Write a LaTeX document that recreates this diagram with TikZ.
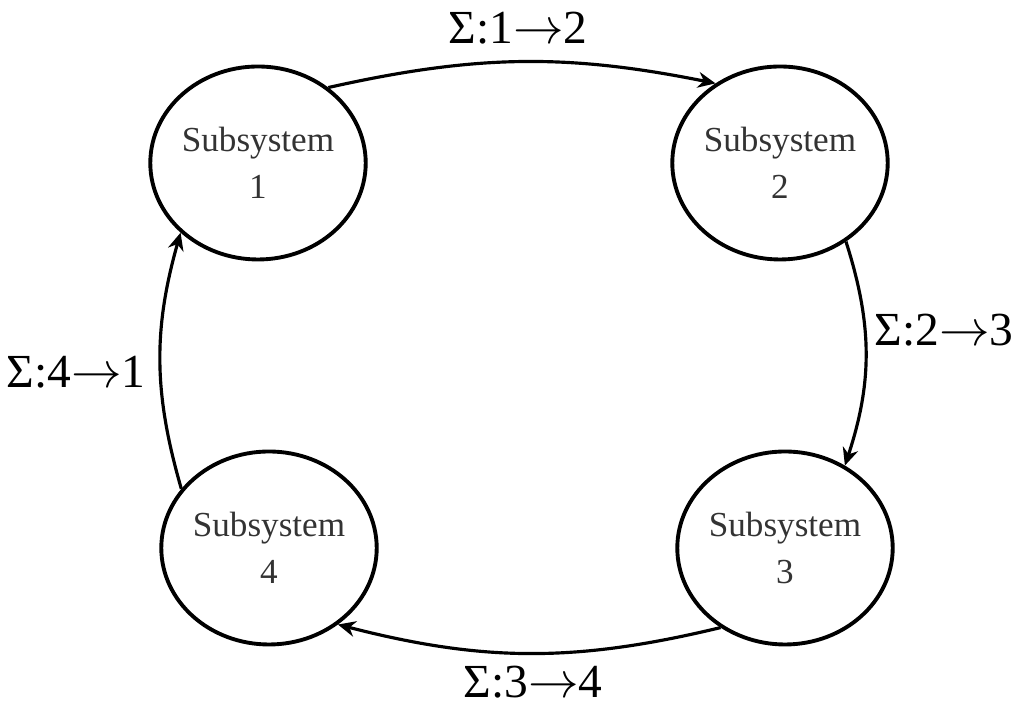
\documentclass[tikz,border=0pt]{standalone}
\usepackage{fontspec}
\setmainfont{Liberation Serif}
\usetikzlibrary{shapes.geometric,arrows.meta}

\begin{document}
\begin{tikzpicture}[>={Stealth[length=5pt,width=4.5pt]}, font=\fontsize{10}{13.5}\selectfont,
		subsys/.style={draw, line width=1.1pt, ellipse, minimum width=2.12cm, minimum height=1.93cm, inner sep=0pt, align=center, text=black!80},
		flow/.style={->, line width=0.9pt},
		flowlabel/.style={font=\fontsize{13.5}{16}\selectfont, inner sep=0pt}]
		\useasboundingbox (0,0) rectangle (10.16,7.08);
		\node[subsys] (S1) at (2.58,5.45) {Subsystem\\1}; % top left
		\node[subsys] (S2) at (7.80,5.45) {Subsystem\\2}; % top right
		\node[subsys] (S3) at (7.85,1.60) {Subsystem\\3}; % bottom right
		\node[subsys] (S4) at (2.69,1.60) {Subsystem\\4}; % bottom left
		\node[flowlabel] (L12) at (5.18,6.80) {Σ:1$\rightarrow$2};
		\node[flowlabel] (L23) at (9.44,3.78) {Σ:2$\rightarrow$3};
		\node[flowlabel] (L34) at (5.33,0.26) {Σ:3$\rightarrow$4};
		\node[flowlabel] (L41) at (0.76,3.36) {Σ:4$\rightarrow$1};
		\draw[flow] (S1.47) to[bend left=12] (S2.129);
		\draw[flow] (S2.-50) to[bend left=18] (S3.54);
		\draw[flow] (S3.-129) to[bend left=14] (S4.-48);
		\draw[flow] (S4.146) to[bend left=16] (S1.-138);
	\end{tikzpicture}
\end{document}
